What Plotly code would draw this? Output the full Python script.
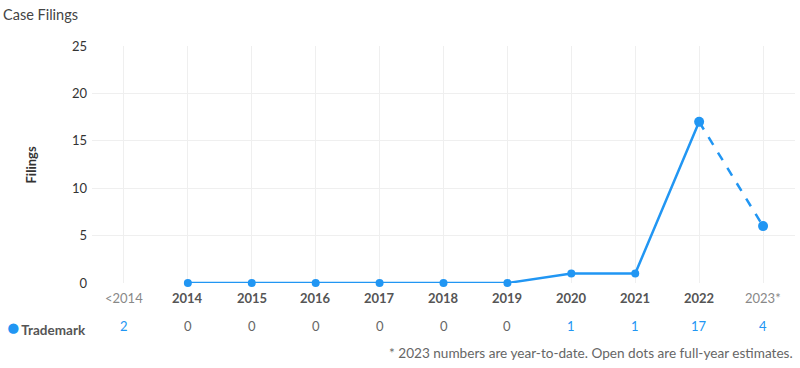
import plotly.graph_objects as go

categories = ["<2014", "2014", "2015", "2016", "2017", "2018", "2019", "2020", "2021", "2022", "2023*"]
solid_x = ["2014", "2015", "2016", "2017", "2018", "2019", "2020", "2021", "2022"]
solid_y = [0, 0, 0, 0, 0, 0, 1, 1, 17]
dash_x = ["2022", "2023*"]
dash_y = [17, 6]
table_counts = [2, 0, 0, 0, 0, 0, 0, 1, 1, 17, 4]

BLUE = "#2196F3"
FONT = "Lato"

fig = go.Figure()
fig.add_trace(go.Scatter(x=solid_x, y=solid_y, mode="lines+markers",
                         line=dict(color=BLUE, width=2.5), marker=dict(size=8, color=BLUE),
                         cliponaxis=False, showlegend=False))
fig.add_trace(go.Scatter(x=dash_x, y=dash_y, mode="lines+markers",
                         line=dict(color=BLUE, width=2.5, dash="dash"), marker=dict(size=10, color=BLUE),
                         cliponaxis=False, showlegend=False))

W, H = 800, 368
L, R, T, B = 92, 5, 46, 85
pw = W - L - R

annotations = []
for i, c in enumerate(categories):
    light = c in ("<2014", "2023*")
    annotations.append(dict(x=i, xref="x", y=0, yref="paper", yanchor="middle", yshift=-15,
                            text=c if light else f"<b>{c}</b>", showarrow=False,
                            font=dict(family=FONT, size=13, color="#888" if light else "#555")))
    v = table_counts[i]
    annotations.append(dict(x=i, xref="x", y=0, yref="paper", yanchor="middle", yshift=-43,
                            text=str(v), showarrow=False,
                            font=dict(family=FONT, size=13, color=BLUE if v else "#666")))

annotations.append(dict(x=(88 - L) / pw, xref="paper", xanchor="right", y=0, yref="paper",
                        yanchor="middle", yshift=-43, showarrow=False,
                        text=f"<span style='color:{BLUE};font-size:21px'>●</span>&#8201;<b>Trademark</b>",
                        font=dict(family=FONT, size=13.5, color="#555")))
annotations.append(dict(x=(795 - L) / pw, xref="paper", xanchor="right", y=0, yref="paper", yanchor="middle",
                        yshift=-70, showarrow=False,
                        text="* 2023 numbers are year-to-date. Open dots are full-year estimates.",
                        font=dict(family=FONT, size=13.6, color="#666")))
annotations.append(dict(x=(30 - L) / pw, xref="paper", xanchor="center", y=0.5, yref="paper",
                        yanchor="middle", textangle=-90, showarrow=False, text="<b>Filings</b>",
                        font=dict(family=FONT, size=13, color="#333")))
annotations.append(dict(x=(1 - L) / pw, xref="paper", xanchor="left", y=1, yref="paper",
                        yanchor="middle", yshift=T - 14, showarrow=False, text="Case Filings",
                        font=dict(family=FONT, size=14.5, color="#444")))

fig.update_layout(
    width=W, height=H, margin=dict(l=L, r=R, t=T, b=B),
    paper_bgcolor="white", plot_bgcolor="white",
    font=dict(family=FONT, color="#444"),
    annotations=annotations,
    xaxis=dict(type="category", categoryorder="array", categoryarray=categories,
               range=[-0.5, 10.5], showticklabels=False, showgrid=True, gridcolor="#efefef",
               zeroline=False, showline=False, ticks=""),
    yaxis=dict(range=[0, 25], tickvals=[0, 5, 10, 15, 20, 25], showgrid=True, gridcolor="#efefef",
               zeroline=False, showline=False, tickfont=dict(family=FONT, size=13, color="#333"),
               ticks="", ticklabelstandoff=4),
)

fig.write_html("out.html", config={"displayModeBar": False},
               post_script="document.body.style.margin='0';document.body.style.padding='0';")
